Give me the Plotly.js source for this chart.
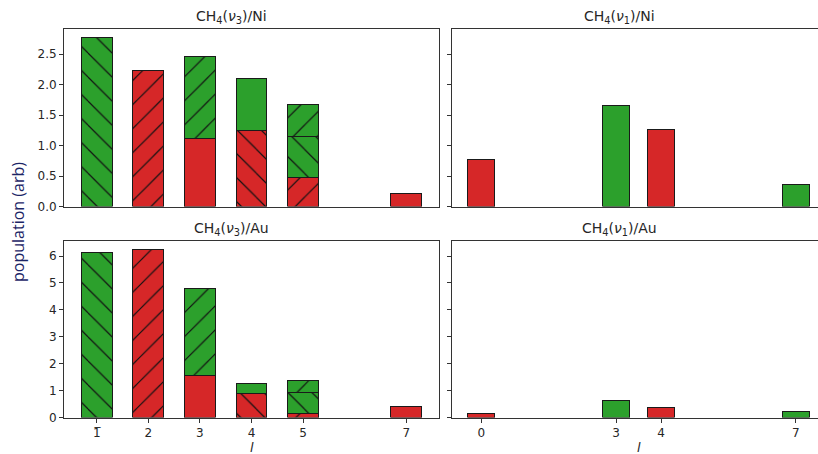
<!DOCTYPE html>
<html><head><meta charset="utf-8">
<script src="https://cdn.plot.ly/plotly-3.0.1.min.js"></script>
<style>html,body{margin:0;padding:0;background:#fff}#chart{width:818px;height:454px}</style>
</head><body><div id="chart"></div>
<script>
// ---- categories / tick labels ----
const lV3 = [1, 2, 3, 4, 5, 7];
const lV3Labels = ['1\u0305', '2', '3', '4', '5', '7'];
const lV1 = [0, 3, 4, 7];
const lV1Labels = ['0', '3', '4', '7'];

// ---- CH4(v3)/Ni : stacked segments, bottom -> top ----
const niV3Seg1 = [2.77, 2.24, 1.12, 1.25, 0.47, 0.21];
const niV3Seg1Kind = ['g', 'r', 'r', 'r', 'r', 'r'];
const niV3Seg1Hatch = ['\\', '/', '', '\\', '/', ''];
const niV3Seg2 = [null, null, 1.35, 0.85, 0.68, null];
const niV3Seg2Hatch = ['', '', '/', '', '\\', ''];
const niV3Seg3 = [null, null, null, null, 0.53, null];
const niV3Seg3Hatch = ['', '', '', '', '/', ''];

// ---- CH4(v3)/Au ----
const auV3Seg1 = [6.15, 6.26, 1.57, 0.88, 0.16, 0.40];
const auV3Seg1Kind = ['g', 'r', 'r', 'r', 'r', 'r'];
const auV3Seg1Hatch = ['\\', '/', '', '\\', '/', ''];
const auV3Seg2 = [null, null, 3.21, 0.40, 0.76, null];
const auV3Seg2Hatch = ['', '', '/', '', '\\', ''];
const auV3Seg3 = [null, null, null, null, 0.44, null];
const auV3Seg3Hatch = ['', '', '', '', '/', ''];

// ---- CH4(v1)/Ni and CH4(v1)/Au ----
const niV1 = [0.78, 1.66, 1.26, 0.36];
const auV1 = [0.15, 0.65, 0.39, 0.22];
const v1Kind = ['r', 'g', 'r', 'g'];

// ---- styles ----
const W = 818, H = 454;
const COL = {g: '#2ca02c', r: '#d62728'};
const EDGE = '#1a1a1a';
const AX = '#333333';
const px = x => x / W;
const py = y => 1 - y / H;

function bar(x, y, color, hatch, xa, ya) {
  return {
    type: 'bar', x: x, y: y, xaxis: xa, yaxis: ya, width: 0.6,
    marker: {
      color: color,
      line: {color: EDGE, width: 1},
      pattern: {shape: hatch, fillmode: 'replace', bgcolor: color,
                fgcolor: '#111111', fgopacity: 1, size: 17, solidity: 0.07}
    },
    hoverinfo: 'skip', showlegend: false
  };
}
const mask = (vals, kind, k) => vals.map((v, i) => (kind[i] === k ? v : null));
const allG = a => a.map(() => 'g');
const none = a => a.map(() => '');

// one trace per (segment layer, colour) so each trace has one fill colour
function layerTraces(x, vals, kind, hatch, xa, ya) {
  return ['r', 'g'].map(k => bar(x, mask(vals, kind, k), COL[k], hatch, xa, ya));
}

const data = [].concat(
  layerTraces(lV3, niV3Seg1, niV3Seg1Kind, niV3Seg1Hatch, 'x', 'y'),
  layerTraces(lV3, niV3Seg2, allG(lV3), niV3Seg2Hatch, 'x', 'y'),
  layerTraces(lV3, niV3Seg3, allG(lV3), niV3Seg3Hatch, 'x', 'y'),
  layerTraces(lV1, niV1, v1Kind, none(lV1), 'x2', 'y2'),
  layerTraces(lV3, auV3Seg1, auV3Seg1Kind, auV3Seg1Hatch, 'x3', 'y3'),
  layerTraces(lV3, auV3Seg2, allG(lV3), auV3Seg2Hatch, 'x3', 'y3'),
  layerTraces(lV3, auV3Seg3, allG(lV3), auV3Seg3Hatch, 'x3', 'y3'),
  layerTraces(lV1, auV1, v1Kind, none(lV1), 'x4', 'y4')
);

const tickFont = {family: 'DejaVu Sans, sans-serif', size: 12, color: '#262626'};
const leftDom = [px(64), px(439)];
const rightDom = [px(452), 1];
const topDom = [py(206.5), py(29)];
const botDom = [py(417.5), py(240.7)];

function xax(dom, range, anchor, vals, text, showTicks) {
  return {
    domain: dom, range: range, anchor: anchor, showgrid: false, zeroline: false,
    showline: true, linecolor: AX, linewidth: 1, mirror: true,
    tickmode: 'array', tickvals: vals, ticktext: text,
    ticks: showTicks ? 'outside' : '', ticklen: 4, tickcolor: AX,
    showticklabels: showTicks, tickfont: tickFont, fixedrange: true
  };
}
function yax(dom, range, anchor, dtick, fmt, labels, mirror) {
  return {
    domain: dom, range: range, anchor: anchor, showgrid: false, zeroline: false,
    showline: true, linecolor: AX, linewidth: 1, mirror: mirror,
    tickmode: 'linear', tick0: 0, dtick: dtick, tickformat: fmt,
    ticks: 'outside', ticklen: 4, tickcolor: AX,
    showticklabels: labels, tickfont: tickFont, fixedrange: true
  };
}

const titleFont = {family: 'DejaVu Sans, sans-serif', size: 14, color: '#262626'};
function ann(text, x, y, extra) {
  return Object.assign({text: text, xref: 'paper', yref: 'paper', x: px(x), y: py(y),
    xanchor: 'center', yanchor: 'middle', showarrow: false, font: titleFont}, extra || {});
}

const layout = {
  width: W, height: H, margin: {l: 0, r: 0, t: 0, b: 0},
  paper_bgcolor: '#fff', plot_bgcolor: '#fff', barmode: 'stack', bargap: 0,
  xaxis: xax(leftDom, [0.366, 7.634], 'y', lV3, lV3Labels, false),
  yaxis: yax(topDom, [0, 2.915], 'x', 0.5, '.1f', true, true),
  xaxis2: xax(rightDom, [-0.655, 7.497], 'y2', lV1, lV1Labels, false),
  yaxis2: yax(topDom, [0, 2.915], 'x2', 0.5, '.1f', false, false),
  xaxis3: xax(leftDom, [0.366, 7.634], 'y3', lV3, lV3Labels, true),
  yaxis3: yax(botDom, [0, 6.57], 'x3', 1, 'd', true, true),
  xaxis4: xax(rightDom, [-0.655, 7.497], 'y4', lV1, lV1Labels, true),
  yaxis4: yax(botDom, [0, 6.57], 'x4', 1, 'd', false, false),
  annotations: [
    ann('CH<sub>4</sub>(<i>ν</i><sub>3</sub>)/Ni', 232, 17),
    ann('CH<sub>4</sub>(<i>ν</i><sub>1</sub>)/Ni', 619, 17),
    ann('CH<sub>4</sub>(<i>ν</i><sub>3</sub>)/Au', 231, 229),
    ann('CH<sub>4</sub>(<i>ν</i><sub>1</sub>)/Au', 619, 229),
    ann('<i>l</i>', 252, 447, {font: {family: 'DejaVu Sans, sans-serif', size: 13, color: '#262626'}}),
    ann('<i>l</i>', 639, 447, {font: {family: 'DejaVu Sans, sans-serif', size: 13, color: '#262626'}}),
    ann('population (arb)', 18, 222, {textangle: -90, font: {family: 'Open Sans, sans-serif', size: 16, color: '#1c2566'}})
  ]
};

Plotly.newPlot('chart', data, layout, {staticPlot: true, displayModeBar: false});
</script>
</body></html>
